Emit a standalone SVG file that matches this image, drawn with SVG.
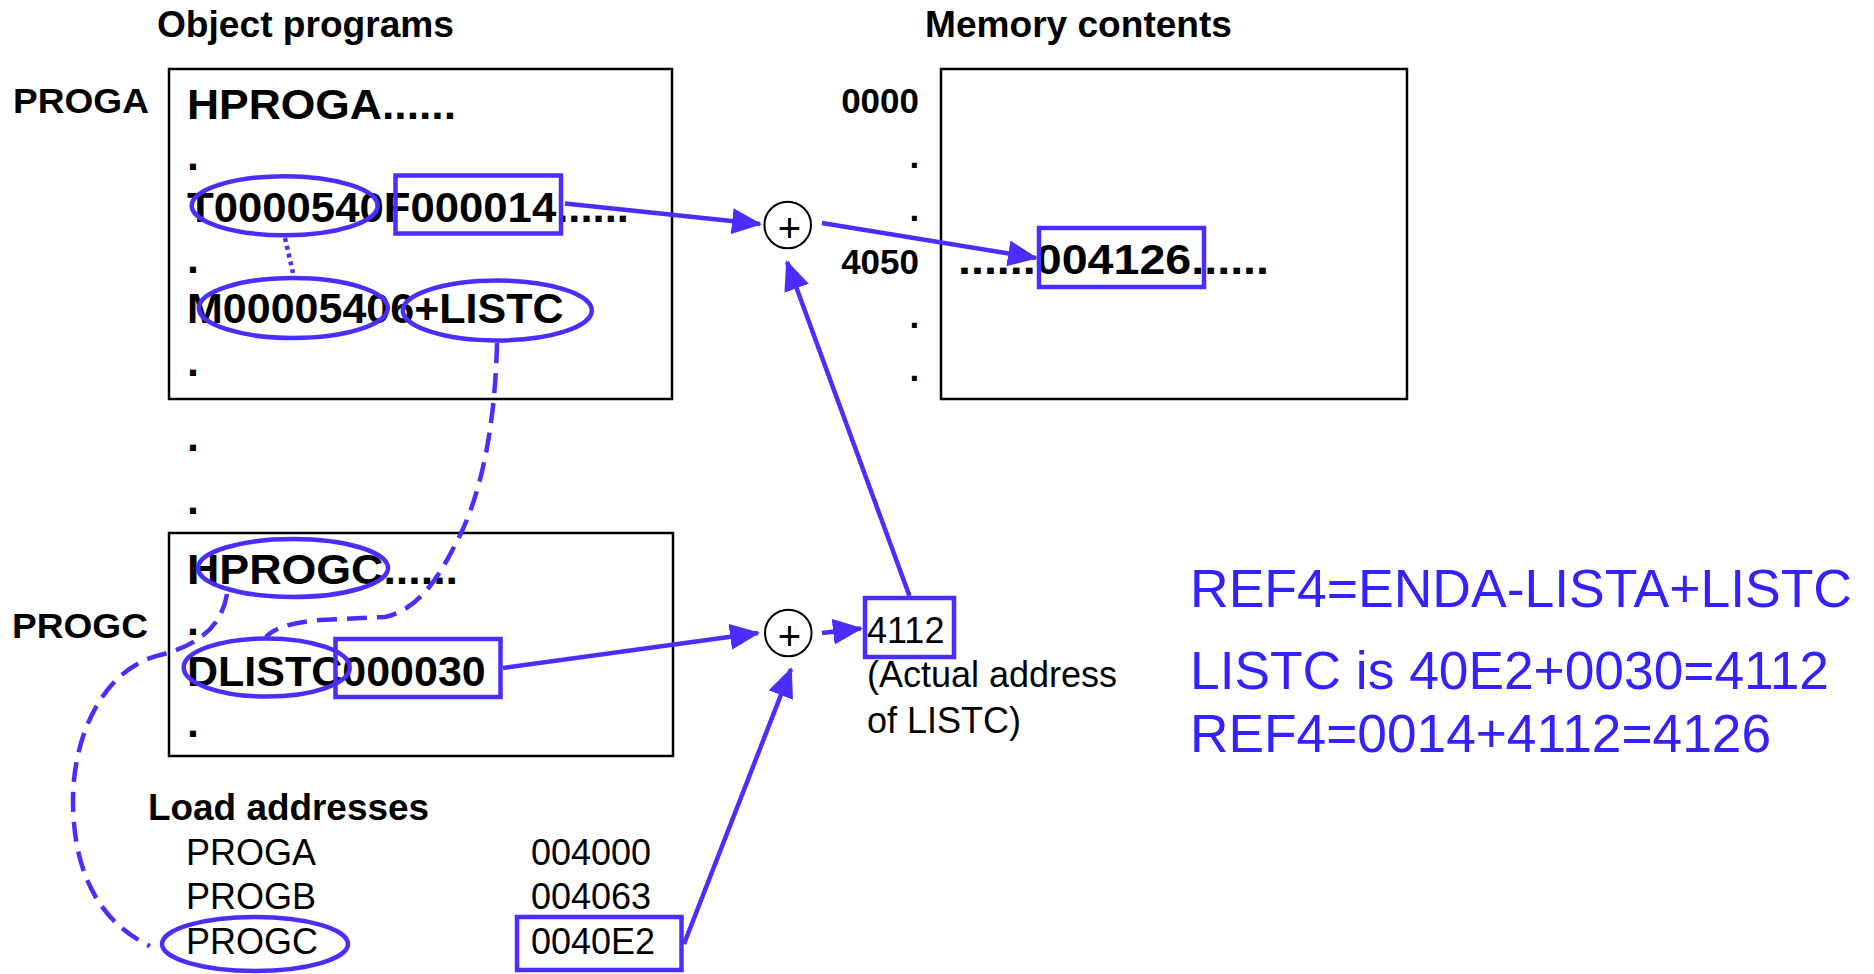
<svg xmlns="http://www.w3.org/2000/svg" width="1874" height="974" viewBox="0 0 1874 974">
<style>
.b{font-family:"Liberation Sans",Arial,sans-serif;font-weight:bold;fill:#000}
.r{font-family:"Liberation Sans",Arial,sans-serif;fill:#000}
.bl{font-family:"Liberation Sans",Arial,sans-serif;fill:#3322ff;font-size:53px}
.box{fill:none;stroke:#000;stroke-width:2.5}
.hl{fill:none;stroke:#4a2eff;stroke-width:4.5}
.ln{fill:none;stroke:#4a2eff;stroke-width:4.5}
.dash{fill:none;stroke:#4a2eff;stroke-width:4.5;stroke-dasharray:20 10}
.dot{fill:none;stroke:#4a2eff;stroke-width:4.5;stroke-dasharray:4 4}
.circ{fill:#fff;stroke:#000;stroke-width:2}
</style>
<defs>
<marker id="ah" markerUnits="userSpaceOnUse" markerWidth="30" markerHeight="26" refX="28" refY="13" orient="auto">
<path d="M0,0 L30,13 L0,26 z" fill="#4a2eff"/>
</marker>
</defs>
<rect width="1874" height="974" fill="#fff"/>

<g id="headings">
<text class="b" x="157" y="37" font-size="36" textLength="297" lengthAdjust="spacingAndGlyphs">Object programs</text>
<text class="b" x="925" y="37" font-size="36" textLength="307" lengthAdjust="spacingAndGlyphs">Memory contents</text>
</g>

<g id="proga">
<text class="b" x="13" y="113" font-size="35" textLength="136" lengthAdjust="spacingAndGlyphs">PROGA</text>
<rect class="box" x="169" y="69" width="503" height="330"/>
<text class="b" x="187" y="119" font-size="43" textLength="269" lengthAdjust="spacingAndGlyphs">HPROGA......</text>
<text class="b" x="187" y="170" font-size="43">.</text>
<text class="b" x="187" y="222" font-size="43" textLength="442" lengthAdjust="spacingAndGlyphs">T0000540F000014......</text>
<text class="b" x="187" y="273" font-size="43">.</text>
<text class="b" x="187" y="323" font-size="43">M00005406+LISTC</text>
<text class="b" x="187" y="376" font-size="43">.</text>
<ellipse class="hl" cx="284.7" cy="205.7" rx="93" ry="29.5"/>
<rect class="hl" x="395.5" y="175.5" width="165.5" height="58"/>
<ellipse class="hl" cx="293.3" cy="308" rx="94.5" ry="30"/>
<ellipse class="hl" cx="497.3" cy="310.5" rx="94.5" ry="30"/>
</g>

<g id="between-dots">
<text class="b" x="187" y="451" font-size="43">.</text>
<text class="b" x="187" y="514" font-size="43">.</text>
</g>

<g id="progc">
<text class="b" x="12" y="638" font-size="35" textLength="136" lengthAdjust="spacingAndGlyphs">PROGC</text>
<rect class="box" x="169" y="533" width="504" height="223"/>
<text class="b" x="187" y="584" font-size="43" textLength="271" lengthAdjust="spacingAndGlyphs">HPROGC......</text>
<text class="b" x="187" y="635" font-size="43">.</text>
<text class="b" x="187" y="686" font-size="43">DLISTC000030</text>
<text class="b" x="187" y="737" font-size="43">.</text>
<ellipse class="hl" cx="293" cy="568" rx="95" ry="29"/>
<ellipse class="hl" cx="266.7" cy="667.5" rx="83" ry="29"/>
<rect class="hl" x="335.5" y="639" width="165" height="58"/>
</g>

<g id="load-addresses">
<text class="b" x="148" y="820" font-size="36" textLength="281" lengthAdjust="spacingAndGlyphs">Load addresses</text>
<text class="r" x="186" y="865" font-size="36">PROGA</text>
<text class="r" x="531" y="865" font-size="36">004000</text>
<text class="r" x="186" y="909" font-size="36">PROGB</text>
<text class="r" x="531" y="909" font-size="36">004063</text>
<text class="r" x="186" y="954" font-size="36">PROGC</text>
<text class="r" x="531" y="954" font-size="36">0040E2</text>
<ellipse class="hl" cx="255" cy="944" rx="93" ry="27"/>
<rect class="hl" x="517" y="917" width="164.5" height="53"/>
</g>

<g id="memory">
<text class="b" x="919" y="113" font-size="35" text-anchor="end">0000</text>
<text class="b" x="909.5" y="167.5" font-size="35">.</text>
<text class="b" x="909.5" y="221" font-size="35">.</text>
<text class="b" x="919" y="273.5" font-size="35" text-anchor="end">4050</text>
<text class="b" x="909.5" y="328" font-size="35">.</text>
<text class="b" x="909.5" y="381" font-size="35">.</text>
<rect class="box" x="941" y="69" width="466" height="330"/>
<text class="b" x="958" y="274" font-size="43" textLength="311" lengthAdjust="spacingAndGlyphs">......004126......</text>
<rect class="hl" x="1039" y="228" width="165" height="59"/>
</g>

<g id="adder1">
<circle class="circ" cx="787.7" cy="225" r="23.3"/>
<text class="r" x="789.5" y="242" font-size="40" text-anchor="middle">+</text>
</g>

<g id="adder2">
<circle class="circ" cx="788.3" cy="633" r="23.3"/>
<text class="r" x="789.5" y="650" font-size="40" text-anchor="middle">+</text>
</g>

<g id="listc-address">
<rect class="hl" x="865" y="598" width="89" height="59"/>
<text class="r" x="867" y="643" font-size="36">4112</text>
<text class="r" x="867" y="687" font-size="36">(Actual address</text>
<text class="r" x="867" y="733" font-size="36">of LISTC)</text>
</g>

<g id="formulas">
<text class="bl" x="1190" y="607" textLength="662" lengthAdjust="spacingAndGlyphs">REF4=ENDA-LISTA+LISTC</text>
<text class="bl" x="1190" y="689" textLength="639" lengthAdjust="spacingAndGlyphs">LISTC is 40E2+0030=4112</text>
<text class="bl" x="1190" y="752" textLength="581" lengthAdjust="spacingAndGlyphs">REF4=0014+4112=4126</text>
</g>

<g id="connectors">
<line class="dot" x1="285" y1="238" x2="293" y2="273"/>
<path class="dash" d="M497,343 C495,430 480,500 455,545 C435,585 415,610 385,617 L320,620 C295,622 275,627 266,637"/>
<path class="dash" d="M227,594 C222,625 200,645 160,655 C100,670 73,740 73,800 C73,880 105,925 150,946"/>
<line class="ln" x1="565" y1="203.5" x2="760" y2="224" marker-end="url(#ah)"/>
<line class="ln" x1="822" y1="223" x2="1036" y2="258" marker-end="url(#ah)"/>
<line class="ln" x1="909.5" y1="596" x2="787" y2="262" marker-end="url(#ah)"/>
<line class="ln" x1="503" y1="668" x2="758" y2="633" marker-end="url(#ah)"/>
<line class="ln" x1="822" y1="633" x2="861" y2="628.5" marker-end="url(#ah)"/>
<line class="ln" x1="684" y1="944" x2="791" y2="669" marker-end="url(#ah)"/>
</g>
</svg>
